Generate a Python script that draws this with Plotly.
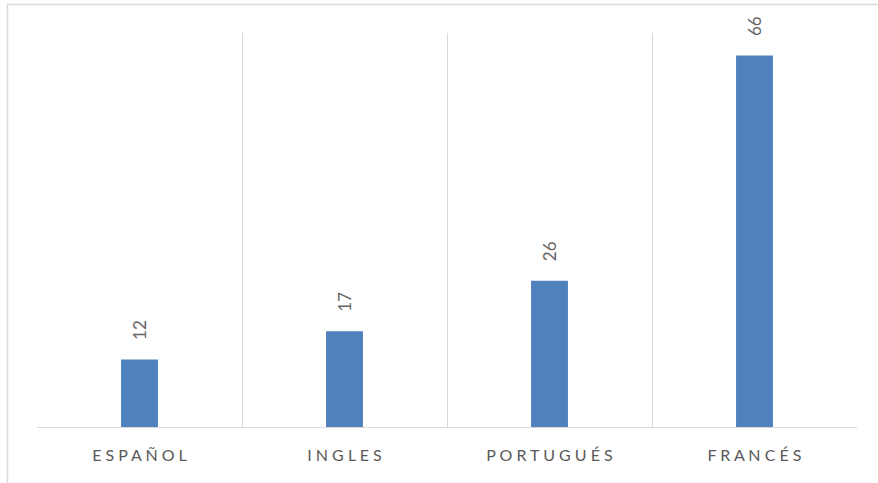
import plotly.graph_objects as go

categories = ["ESPAÑOL", "INGLES", "PORTUGUÉS", "FRANCÉS"]
values = [12, 17, 26, 66]

sp = " "
tick_text = [sp.join(list(c)) for c in categories]

fig = go.Figure(go.Bar(
    x=categories, y=values, width=0.18,
    marker=dict(color="#4f81bd", line=dict(width=0)),
    hoverinfo="x+y",
))

for c, v in zip(categories, values):
    fig.add_annotation(
        x=c, y=v, text=str(v), showarrow=False, textangle=-90,
        yanchor="bottom", xanchor="center", yshift=17,
        font=dict(family="Lato", size=17, color="#666666"),
    )

fig.update_layout(
    width=878, height=483,
    margin=dict(l=37, r=21, t=33, b=56),
    paper_bgcolor="white", plot_bgcolor="white",
    showlegend=False,
    xaxis=dict(
        type="category", range=[-0.5, 3.5],
        tickmode="array", tickvals=categories, ticktext=tick_text,
        tickson="boundaries", ticks="",
        showgrid=True, gridcolor="#d9d9d9", gridwidth=1,
        showline=True, linecolor="#d9d9d9", linewidth=1,
        tickfont=dict(family="Lato", size=16, color="#595959"),
        ticklabelstandoff=14,
        zeroline=False,
    ),
    yaxis=dict(range=[0, 70], visible=False, showgrid=False, zeroline=False),
    shapes=[dict(
        type="rect", xref="paper", yref="paper",
        x0=(7.5 - 37) / 820, x1=1.5, y0=-0.5, y1=(427 - 4.5) / 394,
        line=dict(color="#d9d9d9", width=1.5), fillcolor="rgba(0,0,0,0)", layer="below",
    )],
)

fig.write_html(
    "out.html",
    config={"displayModeBar": False},
    post_script="document.body.style.margin='0px';document.body.style.overflow='hidden';",
)
